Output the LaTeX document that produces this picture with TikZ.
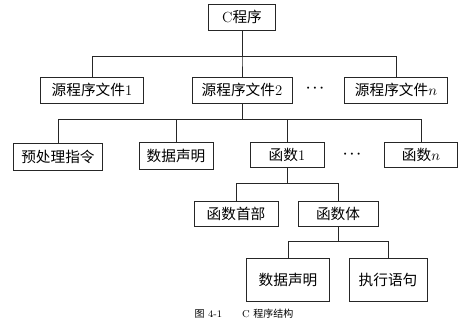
\documentclass[tikz,border=0pt]{standalone}
\usepackage{fontspec}
\newfontfamily\cjk{Noto Sans CJK SC}
\newcommand{\zh}[1]{{\cjk #1}}
\colorlet{inkline}{black!85}

\begin{document}
\begin{tikzpicture}[x=0.75pt,y=-0.75pt,
  box/.style={draw=inkline, line width=0.6pt, inner sep=0pt,
    font=\fontsize{11}{13}\selectfont},
  link/.style={draw=inkline, line width=0.6pt},
  gap/.style={font=\boldmath}]
\useasboundingbox (0,0) rectangle (464,322);
\node[box, minimum width=50.3pt, minimum height=19.5pt] (prog) at (242,17) {C\zh{程序}};
\node[box, minimum width=77.3pt, minimum height=19.5pt] (src1) at (92,90) {\zh{源程序文件}1};
\node[box, minimum width=75pt, minimum height=19.5pt] (src2) at (242,90) {\zh{源程序文件}2};
\node[box, minimum width=77.3pt, minimum height=19.5pt] (srcn) at (396,90) {\zh{源程序文件}$n$};
\node[gap] (dots1) at (315,88) {$\cdots$};
\node[box, minimum width=66.8pt, minimum height=20.3pt] (pre) at (58,157) {\zh{预处理指令}};
\node[box, minimum width=55.5pt, minimum height=20.3pt] (decl) at (176,156) {\zh{数据声明}};
\node[box, minimum width=55.5pt, minimum height=18.8pt] (fun1) at (287,155) {\zh{函数}1};
\node[gap] (dots2) at (352,154) {$\cdots$};
\node[box, minimum width=54.8pt, minimum height=18.8pt] (funn) at (421,155) {\zh{函数}$n$};
\node[box, minimum width=63pt, minimum height=18.8pt] (head) at (236,214) {\zh{函数首部}};
\node[box, minimum width=60pt, minimum height=18.8pt] (body) at (338,214) {\zh{函数体}};
\node[box, minimum width=62.3pt, minimum height=32.3pt] (bdecl) at (288,280) {\zh{数据声明}};
\node[box, minimum width=58.5pt, minimum height=32.3pt] (exec) at (388,280) {\zh{执行语句}};
\node[font=\fontsize{7.5}{9}\selectfont] (cap) at (244,314) {\zh{图} 4-1\qquad C \zh{程序结构}};

\foreach \c in {src1,src2,srcn}
  \draw[link] (prog.south) -- ++(0,26) -| (\c.north);
\foreach \c in {pre,decl,fun1,funn}
  \draw[link] (src2.south) -- ++(0,16) -| (\c.north);
\foreach \c in {head,body}
  \draw[link] (fun1.south) -- ++(0,15) -| (\c.north);
\foreach \c in {bdecl,exec}
  \draw[link] (body.south) -- ++(0,14) -| (\c.north);
\end{tikzpicture}
\end{document}
